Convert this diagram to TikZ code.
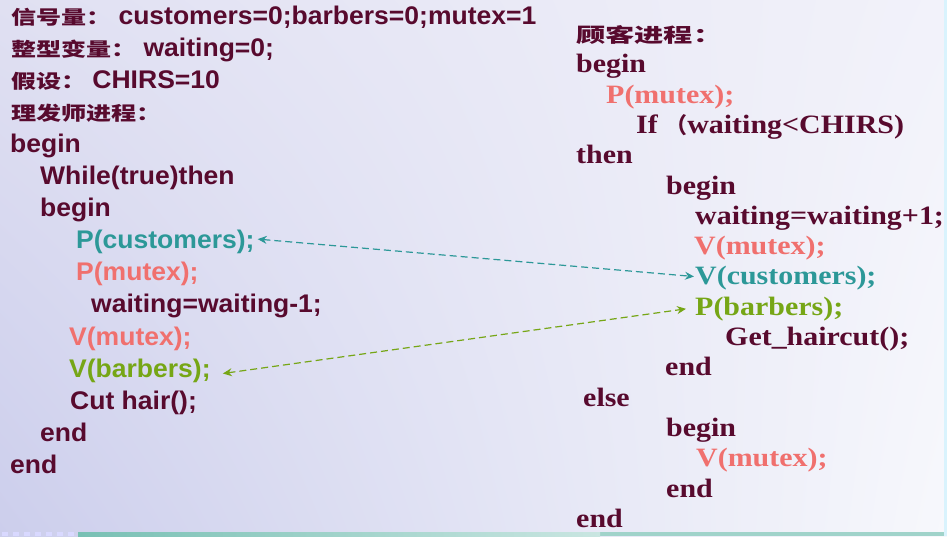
\documentclass[tikz,border=0pt]{standalone}
\usepackage{fontspec}
\usetikzlibrary{arrows.meta,calc,shadings}
\newfontfamily\lsans[FakeStretch=1.04]{Liberation Sans}
\newfontfamily\lserif[FakeStretch=1.13]{Liberation Serif}
\newfontfamily\cjkLfam[FakeStretch=1.32]{Noto Sans CJK SC}
\newfontfamily\cjkRfam[FakeStretch=1.5]{Noto Sans CJK SC}
\newfontfamily\cjkPfam{Noto Sans CJK SC}
\newcommand\cjkL{\cjkLfam\bfseries\fontsize{19}{20}\selectfont}
\newcommand\cjkR{\cjkRfam\bfseries\fontsize{19.5}{20}\selectfont}
\newcommand\cjkP{\cjkPfam\fontsize{22}{24}\selectfont}
\definecolor{dk}{RGB}{88,10,46}
\definecolor{salmon}{RGB}{240,112,110}
\definecolor{tealc}{RGB}{44,152,152}
\definecolor{greenc}{RGB}{118,166,22}
\definecolor{bgA}{RGB}{224,224,242}
\definecolor{bgB}{RGB}{242,242,250}
\definecolor{bgC}{RGB}{204,206,236}
\definecolor{bgD}{RGB}{247,248,252}
\definecolor{barc}{RGB}{120,192,180}
\tikzset{
  L/.style={anchor=base west, inner sep=0pt, text=dk,
    font=\lsans\bfseries\fontsize{25.5}{30}\selectfont},
  R/.style={anchor=base west, inner sep=0pt, text=dk,
    font=\lserif\bfseries\fontsize{26.5}{30}\selectfont},
  link/.style={dashed, dash pattern=on 7pt off 4pt, line width=1.2pt,
    {Stealth[length=9pt,width=8pt]}-{Stealth[length=9pt,width=8pt]}},
}
\begin{document}
\begin{tikzpicture}[x=1pt,y=-1pt]
\useasboundingbox (0,0) rectangle (947,536);
\shade[upper left=bgA, upper right=bgB, lower left=bgC, lower right=bgD]
  (0,0) rectangle (947,536);
\fill[barc!70] (78,532) rectangle (944,536);
\fill[left color=barc, right color=barc!40] (78,532.5) rectangle (600,536);
\foreach \i in {0,...,6} {\fill[blue!15] (\i*11+2,532) rectangle (\i*11+8,536);}
\fill[white!85!cyan] (944,0) rectangle (947,536);

% left column
\node[L] (l1) at (11,24) {{\cjkL 信号量：}\hspace{7pt}customers=0;barbers=0;mutex=1};
\node[L] (l2) at (11,56.1) {{\cjkL 整型变量：}\hspace{7pt}waiting=0;};
\node[L] (l3) at (11,88.2) {{\cjkL 假设：}\hspace{6pt}CHIRS=10};
\node[L] (l4) at (11,120.3) {{\cjkL 理发师进程：}};
\node[L] (l5) at (10,152.4) {begin};
\node[L] (l6) at (40,184.5) {While(true)then};
\node[L] (l7) at (40,216.6) {begin};
\node[L, text=tealc] (pcust) at (76,248.7) {P(customers);};
\node[L, text=salmon] (l9) at (76,280.8) {P(mutex);};
\node[L] (l10) at (91,312.9) {waiting=waiting-1;};
\node[L, text=salmon] (l11) at (69,345) {V(mutex);};
\node[L, text=greenc] (vbarb) at (69,377.1) {V(barbers);};
\node[L] (l13) at (70,409.2) {Cut hair();};
\node[L] (l14) at (40,441.3) {end};
\node[L] (l15) at (10,473.4) {end};

% right column
\node[R] (r0) at (576,42.5) {{\cjkR 顾客进程：}};
\node[R] (r1) at (576,72.8) {begin};
\node[R, text=salmon] (r2) at (606,103.1) {P(mutex);};
\node[R] (r3) at (636,133.4) {If {\cjkP （}waiting<CHIRS)};
\node[R] (r4) at (576,163.7) {then};
\node[R] (r5) at (666,194) {begin};
\node[R] (r6) at (695,224.3) {waiting=waiting+1;};
\node[R, text=salmon] (r7) at (694,254.6) {V(mutex);};
\node[R, text=tealc] (vcust) at (695,284.9) {V(customers);};
\node[R, text=greenc] (pbarb) at (695,315.2) {P(barbers);};
\node[R] (r10) at (725,345.5) {Get\_haircut();};
\node[R] (r11) at (665,375.8) {end};
\node[R] (r12) at (583,406.1) {else};
\node[R] (r13) at (666,436.4) {begin};
\node[R, text=salmon] (r14) at (696,466.7) {V(mutex);};
\node[R] (r15) at (666,497) {end};
\node[R] (r16) at (576,527.3) {end};

% links
\draw[link, tealc] ([shift={(3,-3)}]pcust.east) -- ([shift={(-1,-2)}]vcust.west);
\draw[link, greenc] ([shift={(12,3)}]vbarb.east) -- ([shift={(-9,0)}]pbarb.west);
\end{tikzpicture}
\end{document}
